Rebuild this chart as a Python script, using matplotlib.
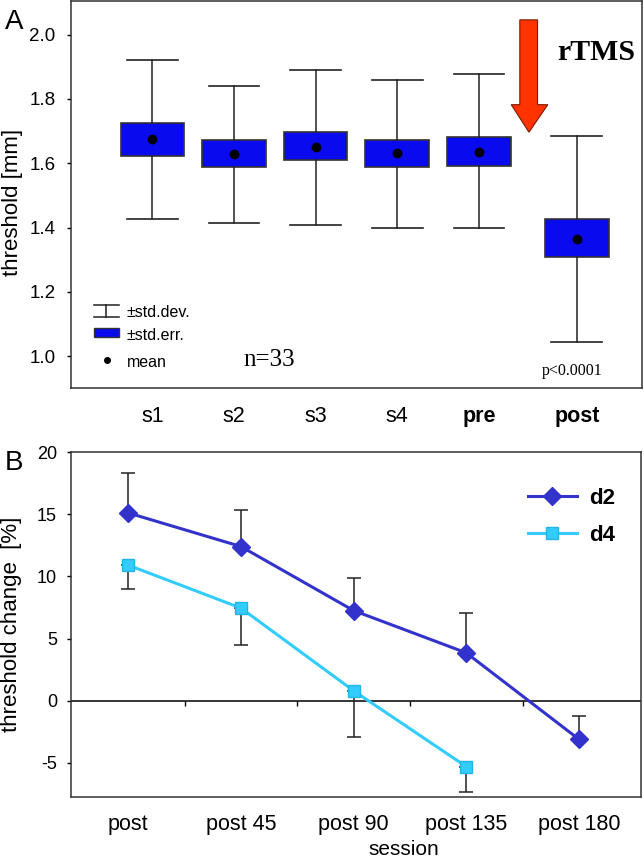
import matplotlib
matplotlib.use("Agg")
import matplotlib.pyplot as plt
import matplotlib.patches as mpatches

# ---- panel A data (threshold, mm)
sessions = ["s1", "s2", "s3", "s4", "pre", "post"]
means = [1.676, 1.629, 1.651, 1.631, 1.635, 1.364]
se_hi = [1.724, 1.672, 1.698, 1.672, 1.681, 1.427]
se_lo = [1.623, 1.587, 1.609, 1.587, 1.592, 1.307]
sd_hi = [1.920, 1.840, 1.890, 1.858, 1.876, 1.685]
sd_lo = [1.427, 1.414, 1.409, 1.400, 1.398, 1.044]

# ---- panel B data (threshold change, %)
later = ["post", "post 45", "post 90", "post 135", "post 180"]
d2 = [15.1, 12.4, 7.25, 3.85, -3.1]
d2_err_up = [3.2, 2.9, 2.6, 3.2, 1.9]
d4 = [10.9, 7.45, 0.8, -5.3]
d4_err_dn = [1.95, 2.95, 3.7, 2.05]

BOX = "#0a0aee"; D2C = "#3333cc"; D4C = "#33ccff"; ARROW = "#ff3300"; FRAME = "#333333"
SANS = "Liberation Sans"; SERIF = "Liberation Serif"
plt.rcParams.update({"font.family": SANS, "axes.edgecolor": FRAME, "axes.linewidth": 1.1,
                     "axes.unicode_minus": False,
                     "ytick.direction": "out", "ytick.major.size": 3, "ytick.major.width": 1.0})

fig = plt.figure(figsize=(6.44, 8.61), dpi=100)

# ---------------------------------------------------------------- A
ax = fig.add_axes([0.110, 0.549, 0.887, 0.450])
pos = [0, 1, 2, 3, 4, 5.2]
stats = [dict(med=m, mean=m, q1=lo, q3=hi, whislo=wl, whishi=wh, fliers=[])
         for m, lo, hi, wl, wh in zip(means, se_lo, se_hi, sd_lo, sd_hi)]
ax.bxp(stats, positions=pos, widths=0.78, capwidths=0.62, showmeans=True, patch_artist=True,
       boxprops=dict(facecolor=BOX, edgecolor=FRAME, lw=1.2),
       whiskerprops=dict(color="#222222", lw=1.1), capprops=dict(color="#222222", lw=1.2),
       medianprops=dict(lw=0), meanprops=dict(marker="o", ms=6, mfc="black", mec="black"),
       zorder=3)
ax.set_xlim(-1.0, 6.0)
ax.set_ylim(0.9, 2.105)
ax.set_yticks([1.0, 1.2, 1.4, 1.6, 1.8, 2.0])
ax.yaxis.set_major_formatter(lambda v, _: f"{v:.1f}")
ax.tick_params(axis="y", labelsize=13.5, pad=8)
ax.set_xticks(pos)
ax.set_xticklabels(sessions, fontsize=15.5)
for t in ax.get_xticklabels()[4:]:
    t.set_fontweight("bold")
ax.tick_params(axis="x", length=0, pad=13)
ax.set_ylabel("threshold [mm]", fontsize=16)
ax.yaxis.set_label_coords(-0.084, 0.48)

# rTMS arrow
arrow = mpatches.Polygon([(0.786, 0.951), (0.817, 0.951), (0.817, 0.732), (0.835, 0.732),
                          (0.802, 0.661), (0.771, 0.732), (0.786, 0.732)],
                         closed=True, transform=ax.transAxes, fc=ARROW, ec="#7a1a00", lw=0.8, zorder=4)
ax.add_patch(arrow)
ax.text(0.919, 0.867, "rTMS", transform=ax.transAxes, ha="center", va="center",
        fontsize=21.5, fontweight="bold", family=SERIF)

# hand-drawn key, lower left
tA = ax.transAxes
ax.plot([0.040, 0.084], [0.214, 0.214], color="#222222", lw=1.1, transform=tA)
ax.plot([0.040, 0.084], [0.184, 0.184], color="#222222", lw=1.1, transform=tA)
ax.plot([0.062, 0.062], [0.184, 0.214], color="#222222", lw=1.1, transform=tA)
ax.add_patch(mpatches.Rectangle((0.040, 0.132), 0.044, 0.024, transform=tA,
                                fc=BOX, ec=FRAME, lw=1.0))
ax.plot([0.063], [0.072], "o", ms=4, color="black", transform=tA)
ax.text(0.098, 0.196, "±std.dev.", transform=tA, va="center", fontsize=11.5)
ax.text(0.098, 0.137, "±std.err.", transform=tA, va="center", fontsize=11.5)
ax.text(0.098, 0.066, "mean", transform=tA, va="center", fontsize=11.5)
ax.text(0.347, 0.072, "n=33", transform=tA, ha="center", va="center", fontsize=18, family=SERIF)
ax.text(0.877, 0.045, "p<0.0001", transform=tA, ha="center", va="center", fontsize=11.5, family=SERIF)
fig.text(0.022, 0.975, "A", fontsize=20, va="center", ha="center")

# ---------------------------------------------------------------- B
bx = fig.add_axes([0.110, 0.0743, 0.885, 0.4007])
xb = list(range(len(later)))
bx.axhline(0, color="black", lw=1.1, zorder=1)
bx.vlines([0.5, 1.5, 2.5, 3.5], -0.45, 0, color="black", lw=1.0, zorder=1)
bx.errorbar(xb, d2, yerr=[[0] * len(d2), d2_err_up], fmt="none", ecolor="#222222",
            elinewidth=1.1, capsize=5, capthick=1.1, zorder=2)
bx.errorbar(xb[:len(d4)], d4, yerr=[d4_err_dn, [0] * len(d4)], fmt="none", ecolor="#222222",
            elinewidth=1.1, capsize=5, capthick=1.1, zorder=2)
bx.plot(xb, d2, color=D2C, lw=2.2, marker="D", ms=9, mfc=D2C, mec=D2C, label="d2", zorder=3)
bx.plot(xb[:len(d4)], d4, color=D4C, lw=2.2, marker="s", ms=8.5, mfc=D4C, mec="#22b5e8",
        label="d4", zorder=3)
bx.set_xlim(-0.51, 4.55)
bx.set_ylim(-7.75, 20)
bx.set_yticks([-5, 0, 5, 10, 15, 20])
bx.tick_params(axis="y", labelsize=13, pad=7)
bx.set_xticks(xb)
bx.set_xticklabels(later, fontsize=15.5)
bx.tick_params(axis="x", length=0, pad=12)
bx.set_ylabel("threshold change  [%]", fontsize=16)
bx.yaxis.set_label_coords(-0.086, 0.5)
bx.set_xlabel("session", fontsize=15, va="center")
bx.xaxis.set_label_coords(0.584, -0.151)
leg = bx.legend(loc="upper left", bbox_to_anchor=(0.767, 0.955), frameon=False,
                handlelength=2.2, labelspacing=0.75, handletextpad=0.55,
                prop=dict(family=SANS, size=16, weight="bold"))
fig.text(0.022, 0.462, "B", fontsize=20, va="center", ha="center")

fig.savefig("out.png", dpi=100)
